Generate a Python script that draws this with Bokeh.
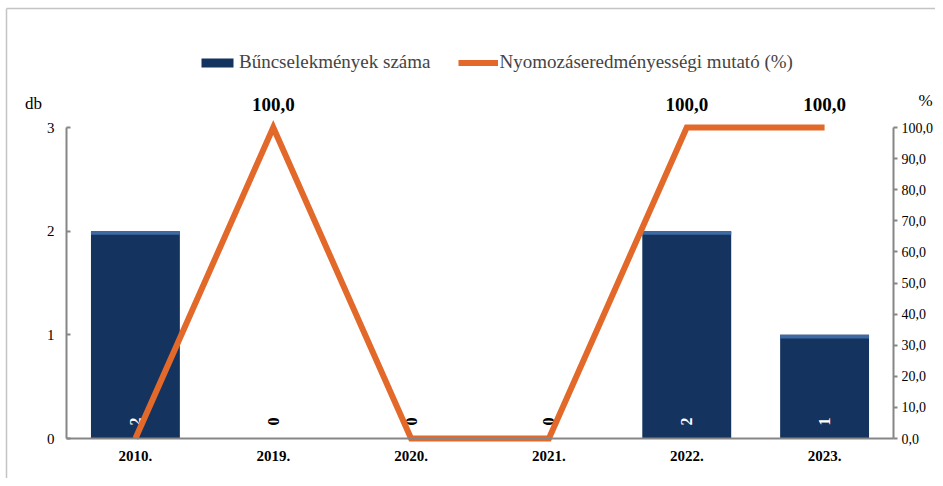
import math
from bokeh.plotting import figure
from bokeh.models import (ColumnDataSource, Range1d, LinearAxis,
                          Legend, LegendItem, LabelSet, Label, FixedTicker, CustomJSTickFormatter)
from bokeh.core.properties import value
from bokeh.embed import file_html
from bokeh.resources import INLINE

# ---- data ----
categories = ["2010.", "2019.", "2020.", "2021.", "2022.", "2023."]
crimes = [2, 0, 0, 0, 2, 1]                 # Bűncselekmények száma (db)
rate = [0, 100, 0, 0, 100, 100]             # Nyomozáseredményességi mutató (%)
left_ticks = [0, 1, 2, 3]
right_ticks = [0, 10, 20, 30, 40, 50, 60, 70, 80, 90, 100]

series_bar = "Bűncselekmények száma"
series_line = "Nyomozáseredményességi mutató (%)"

FONT = "Liberation Serif"
NAVY = "#15335f"
ORANGE = "#E2692A"
AXIS = "#868686"

# ---- layout (pixels in the figure) ----
W, H = 935, 478
PX_LEFT, PX_RIGHT = 66, 893        # x of left / right value axes
PX_ZERO, PX_TOP = 438, 127         # y of value 0 / max value
N = len(categories)
LMAX, RMAX = 3, 100

xs = (PX_RIGHT - PX_LEFT) / N
ys_l = (PX_ZERO - PX_TOP) / LMAX
ys_r = (PX_ZERO - PX_TOP) / RMAX


def dx(px):
    return (px - PX_LEFT) / xs


def dy(py):
    return (PX_ZERO - py) / ys_l


x_range = Range1d(dx(0), dx(W))
y_range = Range1d(dy(H), dy(0))
r_range = Range1d(-(H - PX_ZERO) / ys_r, RMAX + PX_TOP / ys_r)

p = figure(x_range=x_range, y_range=y_range, width=W, height=H,
           output_backend="svg", toolbar_location=None, min_border=0)
p.extra_y_ranges = {"right": r_range}
p.outline_line_color = None
p.grid.visible = False
p.background_fill_color = "white"
p.border_fill_color = "white"

# outer chart border (top and left edges visible in the reference)
p.segment(x0=[dx(6), dx(6)], y0=[dy(H), dy(8)], x1=[dx(6), dx(W)], y1=[dy(8), dy(8)],
          line_color="#c4c4c4", line_width=1.5)

xpos = [i + 0.5 for i in range(N)]
src = ColumnDataSource(dict(
    x=xpos, crimes=crimes, rate=rate,
    bot_hi=[max(c - 0.035, 0) for c in crimes],
    lbl=[str(c) for c in crimes],
    lbl_color=["white" if c > 0 else "black" for c in crimes],
))

BAR_W = 0.645
bars = p.vbar(x="x", top="crimes", bottom=0, width=BAR_W, source=src,
              fill_color=NAVY, line_color=None)
p.vbar(x="x", top="crimes", bottom="bot_hi", width=BAR_W, source=src,
       fill_color="#3d6aa3", line_color=None)

# bar value labels (rotated, inside base)
p.text(x="x", y=17 / ys_l, text="lbl", source=src, angle=math.pi / 2,
       text_align="center", text_baseline="middle",
       text_color="lbl_color", text_font=value(FONT), text_font_style="bold",
       text_font_size="16px")

line = p.line(x="x", y="rate", source=src, y_range_name="right",
              line_color=ORANGE, line_width=6, line_join="miter")

# axes (fixed inside the frame)
xa = p.xaxis[0]
xa.fixed_location = 0
xa.bounds = (0, N)
xa.ticker = FixedTicker(ticks=xpos)
xa.major_label_overrides = {x: c for x, c in zip(xpos, categories)}
xa.axis_line_color = AXIS
xa.axis_line_width = 2
xa.major_tick_line_color = None
xa.minor_tick_line_color = None
xa.major_label_text_font = FONT
xa.major_label_text_font_style = "bold"
xa.major_label_text_font_size = "15px"
xa.major_label_text_color = "black"
xa.major_label_standoff = 6

ya = p.yaxis[0]
ya.fixed_location = 0
ya.bounds = (0, LMAX)
ya.ticker = FixedTicker(ticks=left_ticks)
ya.minor_tick_line_color = None
ya.major_tick_in = 4
ya.major_tick_out = 0
ya.axis_line_color = AXIS
ya.axis_line_width = 2
ya.major_tick_line_color = AXIS
ya.major_tick_line_width = 2
ya.major_label_text_font = FONT
ya.major_label_text_font_size = "15px"
ya.major_label_text_color = "black"
ya.major_label_standoff = 12

ra = LinearAxis(y_range_name="right", bounds=(0, RMAX), fixed_location=N)
ra.ticker = FixedTicker(ticks=right_ticks)
ra.formatter = CustomJSTickFormatter(code="return tick.toFixed(1).replace('.', ',');")
ra.minor_tick_line_color = None
ra.major_tick_in = 0
ra.major_tick_out = 4
ra.axis_line_color = AXIS
ra.axis_line_width = 2
ra.major_tick_line_color = AXIS
ra.major_tick_line_width = 2
ra.major_label_text_font = FONT
ra.major_label_text_font_size = "14px"
ra.major_label_text_color = "black"
ra.major_label_standoff = 4
p.add_layout(ra, "right")

# line value labels
lsrc = ColumnDataSource(dict(
    x=[x for x, r in zip(xpos, rate) if r > 0],
    y=[r for r in rate if r > 0],
    t=[f"{r:.1f}".replace(".", ",") for r in rate if r > 0],
))
p.add_layout(LabelSet(x="x", y="y", text="t", source=lsrc, y_range_name="right",
                      y_offset=23, text_align="center", text_baseline="middle",
                      text_font=value(FONT), text_font_style="bold",
                      text_font_size="19px", text_color="black"))

# axis titles
p.add_layout(Label(x=dx(33), y=dy(103), text="db",
                   text_align="center", text_baseline="middle",
                   text_font=FONT, text_font_size="17px", text_color="black"))
p.add_layout(Label(x=dx(925), y=dy(100), text="%",
                   text_align="center", text_baseline="middle",
                   text_font=FONT, text_font_size="17px", text_color="black"))

legend = Legend(items=[LegendItem(label=series_bar, renderers=[bars]),
                       LegendItem(label=series_line, renderers=[line])],
                orientation="horizontal", location=(197, H - 73),
                border_line_color=None, background_fill_alpha=0,
                label_text_font=FONT, label_text_font_size="19px",
                glyph_width=40, glyph_height=11, label_standoff=2, spacing=27,
                padding=0, margin=0)
p.add_layout(legend, "center")

open("out.html", "w").write(file_html(p, INLINE))
